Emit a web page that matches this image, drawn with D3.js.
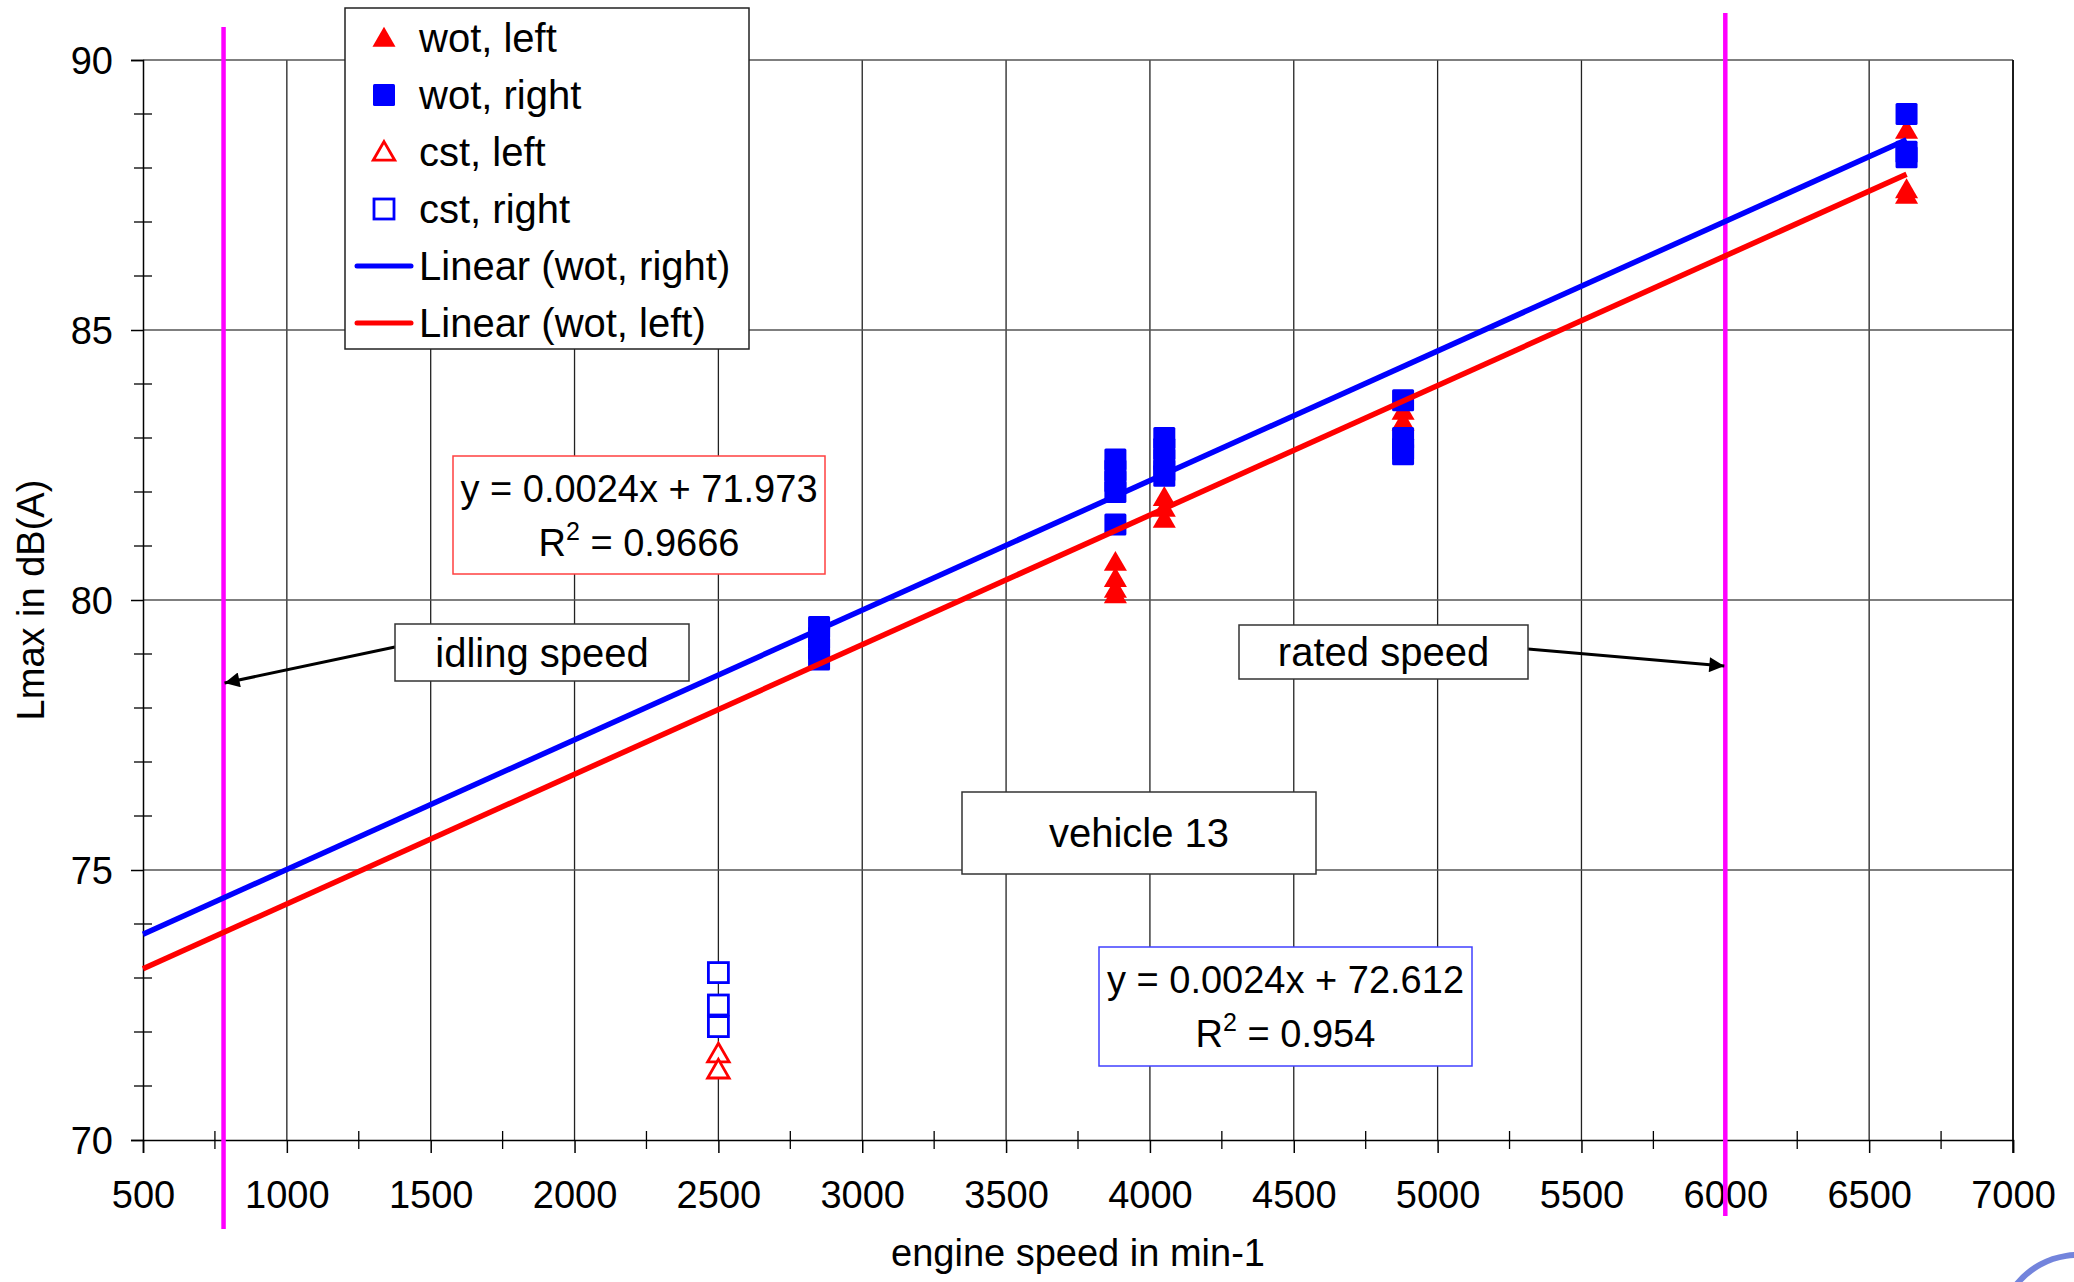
<!DOCTYPE html>
<html>
<head>
<meta charset="utf-8">
<script src="https://cdn.jsdelivr.net/npm/d3@7"></script>
<style>
  html, body { margin: 0; padding: 0; background: #fff; }
  svg { display: block; font-family: "Liberation Sans", Arial, sans-serif; }
</style>
</head>
<body>
<svg id="chart" width="2074" height="1282"></svg>
<script>
// Engine speed (min-1) and Lmax dB(A) per series
const wotLeftX  = [3880, 3880, 3880, 3880, 4050, 4050, 4050, 4880, 4880, 6630, 6630, 6630];
const wotLeftY  = [80.7, 80.4, 80.2, 80.1, 81.9, 81.7, 81.5, 83.5, 83.3, 88.7, 87.6, 87.5];
const wotRightX = [2850, 2850, 2850, 2850, 3880, 3880, 3880, 3880, 3880, 4050, 4050, 4050, 4050, 4050, 4880, 4880, 4880, 4880, 6630, 6630, 6630];
const wotRightY = [79.5, 79.3, 79.1, 78.9, 82.6, 82.4, 82.2, 82.0, 81.4, 83.0, 82.8, 82.6, 82.4, 82.3, 83.7, 83.0, 82.8, 82.7, 89.0, 88.3, 88.2];
const cstLeftX  = [2500, 2500];
const cstLeftY  = [71.6, 71.3];
const cstRightX = [2500, 2500, 2500];
const cstRightY = [73.1, 72.5, 72.1];

// Linear trend lines: slope, intercept, R²
const fitRight = { slope: 0.0024, intercept: 72.612, r2: "0.954" };
const fitLeft  = { slope: 0.0024, intercept: 71.973, r2: "0.9666" };
const fitRange = [500, 6630];

// Reference speeds
const idleSpeed = 780;
const ratedSpeed = 6000;

// Axis ticks
const xTicks = [500, 1000, 1500, 2000, 2500, 3000, 3500, 4000, 4500, 5000, 5500, 6000, 6500, 7000];
const yTicks = [70, 75, 80, 85, 90];
const xMinorTicks = d3.range(750, 7000, 500);
const yMinorTicks = d3.range(71, 90, 1).filter(v => v % 5 !== 0);

const legendItems = ["wot, left", "wot, right", "cst, left", "cst, right", "Linear (wot, right)", "Linear (wot, left)"];

const RED = "#ff0000", BLUE = "#0000ff", MAGENTA = "#ff00ff";

const svg = d3.select("#chart");
const x = d3.scaleLinear().domain([500, 7000]).range([143, 2013]);
const y = d3.scaleLinear().domain([70, 90]).range([1140, 60]);

// Grid
const grid = svg.append("g");
grid.selectAll(".vg").data(xTicks.slice(1)).enter().append("line")
  .attr("x1", d => x(d)).attr("x2", d => x(d))
  .attr("y1", y(70)).attr("y2", y(90))
  .attr("stroke", "#222").attr("stroke-width", 1.3);
grid.selectAll(".hg").data(yTicks.slice(1)).enter().append("line")
  .attr("x1", x(500)).attr("x2", x(7000))
  .attr("y1", d => y(d)).attr("y2", d => y(d))
  .attr("stroke", "#555").attr("stroke-width", 1.3);

// Axes
const fontSize = 38;
const labelSize = 40;
const xAxis = d3.axisBottom(x).tickValues(xTicks).tickSize(13).tickPadding(28).tickFormat(d3.format("d"));
const gx = svg.append("g").attr("transform", `translate(0,${y(70)})`).call(xAxis);
const yAxis = d3.axisLeft(y).tickValues(yTicks).tickSize(12).tickPadding(18).tickFormat(d3.format("d"));
const gy = svg.append("g").attr("transform", `translate(${x(500)},0)`).call(yAxis);
[gx, gy].forEach(g => {
  g.select(".domain").attr("stroke", "#000").attr("stroke-width", 1.5);
  g.selectAll(".tick line").attr("stroke", "#000").attr("stroke-width", 1.5);
  g.selectAll(".tick text").attr("font-size", fontSize).attr("fill", "#000")
    .attr("font-family", "Liberation Sans, Arial, sans-serif");
});
gx.selectAll(".tick text").attr("dy", "0.71em");
gy.selectAll(".tick text").attr("dy", "0.35em");

// Minor ticks crossing the axes
svg.append("g").selectAll("line").data(xMinorTicks).enter().append("line")
  .attr("x1", d => x(d)).attr("x2", d => x(d))
  .attr("y1", y(70) - 9).attr("y2", y(70) + 9)
  .attr("stroke", "#000").attr("stroke-width", 1.3);
svg.append("g").selectAll("line").data(yMinorTicks).enter().append("line")
  .attr("x1", x(500) - 9).attr("x2", x(500) + 9)
  .attr("y1", d => y(d)).attr("y2", d => y(d))
  .attr("stroke", "#000").attr("stroke-width", 1.3);
// Plot frame right edge
svg.append("line").attr("x1", x(7000)).attr("x2", x(7000)).attr("y1", y(90)).attr("y2", y(70) + 13)
  .attr("stroke", "#000").attr("stroke-width", 1.5);

// Axis titles
svg.append("text").attr("x", (x(500) + x(7000)) / 2).attr("y", 1266)
  .attr("text-anchor", "middle").attr("font-size", fontSize).text("engine speed in min-1");
svg.append("text").attr("transform", `translate(44,${(y(70) + y(90)) / 2}) rotate(-90)`)
  .attr("text-anchor", "middle").attr("font-size", fontSize).text("Lmax in dB(A)");

// Reference speed lines
svg.append("line").attr("x1", x(idleSpeed)).attr("x2", x(idleSpeed)).attr("y1", 27).attr("y2", 1229)
  .attr("stroke", MAGENTA).attr("stroke-width", 4.5);
svg.append("line").attr("x1", x(ratedSpeed)).attr("x2", x(ratedSpeed)).attr("y1", 13).attr("y2", 1216)
  .attr("stroke", MAGENTA).attr("stroke-width", 4.5);

// Markers
const tri = d3.symbol().type(d3.symbolTriangle).size(230);
const zip = (xs, ys) => xs.map((v, i) => [v, ys[i]]);
const sq = 22;

svg.append("g").selectAll("path").data(zip(cstLeftX, cstLeftY)).enter().append("path")
  .attr("d", d3.symbol().type(d3.symbolTriangle).size(200)())
  .attr("transform", d => `translate(${x(d[0])},${y(d[1]) + 2})`)
  .attr("fill", "#fff").attr("stroke", RED).attr("stroke-width", 2.8);
svg.append("g").selectAll("rect").data(zip(cstRightX, cstRightY)).enter().append("rect")
  .attr("x", d => x(d[0]) - 10).attr("y", d => y(d[1]) - 10)
  .attr("width", 20).attr("height", 20)
  .attr("fill", "#fff").attr("stroke", BLUE).attr("stroke-width", 2.8);

svg.append("g").selectAll("path").data(zip(wotLeftX, wotLeftY)).enter().append("path")
  .attr("d", tri())
  .attr("transform", d => `translate(${x(d[0])},${y(d[1]) + 2})`)
  .attr("fill", RED);
svg.append("g").selectAll("rect").data(zip(wotRightX, wotRightY)).enter().append("rect")
  .attr("x", d => x(d[0]) - sq / 2).attr("y", d => y(d[1]) - sq / 2)
  .attr("width", sq).attr("height", sq).attr("rx", 1.5)
  .attr("fill", BLUE);

// Trend lines
const fitLine = (fit) => d3.line().x(d => x(d)).y(d => y(fit.slope * d + fit.intercept))(fitRange);
svg.append("path").attr("d", fitLine(fitRight)).attr("stroke", BLUE).attr("stroke-width", 5.5).attr("fill", "none");
svg.append("path").attr("d", fitLine(fitLeft)).attr("stroke", RED).attr("stroke-width", 5.5).attr("fill", "none");

// Equation boxes
function equationBox(x0, y0, w, h, color, fit) {
  const g = svg.append("g");
  g.append("rect").attr("x", x0).attr("y", y0).attr("width", w).attr("height", h)
    .attr("fill", "#fff").attr("stroke", color).attr("stroke-width", 1.5);
  const cx = x0 + w / 2;
  g.append("text").attr("x", cx).attr("y", y0 + 46).attr("text-anchor", "middle").attr("font-size", fontSize)
    .text(`y = ${fit.slope}x + ${fit.intercept}`);
  const t = g.append("text").attr("x", cx).attr("y", y0 + 100).attr("text-anchor", "middle").attr("font-size", fontSize);
  t.append("tspan").text("R");
  t.append("tspan").attr("font-size", 25).attr("dy", -16).text("2");
  t.append("tspan").attr("dy", 16).text(` = ${fit.r2}`);
}
equationBox(453, 456, 372, 118, "#ff4040", fitLeft);
equationBox(1099, 947, 373, 119, "#4040ff", fitRight);

// Arrowhead
svg.append("defs").append("marker").attr("id", "arrow")
  .attr("viewBox", "0 0 10 10").attr("refX", 10).attr("refY", 5)
  .attr("markerWidth", 7).attr("markerHeight", 5).attr("markerUnits", "strokeWidth")
  .attr("orient", "auto")
  .append("path").attr("d", "M0,0L10,5L0,10Z").attr("fill", "#000");

// Annotation labels
function labelBox(x0, y0, w, h, text) {
  svg.append("rect").attr("x", x0).attr("y", y0).attr("width", w).attr("height", h)
    .attr("fill", "#fff").attr("stroke", "#333").attr("stroke-width", 1.5);
  svg.append("text").attr("x", x0 + w / 2).attr("y", y0 + h / 2 + 14).attr("text-anchor", "middle")
    .attr("font-size", labelSize).text(text);
}
svg.append("line").attr("x1", 395).attr("y1", 647).attr("x2", x(idleSpeed) + 1).attr("y2", 683)
  .attr("stroke", "#000").attr("stroke-width", 3).attr("marker-end", "url(#arrow)");
svg.append("line").attr("x1", 1528).attr("y1", 649).attr("x2", x(ratedSpeed) - 1).attr("y2", 666)
  .attr("stroke", "#000").attr("stroke-width", 3).attr("marker-end", "url(#arrow)");
labelBox(395, 624, 294, 57, "idling speed");
labelBox(1239, 625, 289, 54, "rated speed");
labelBox(962, 792, 354, 82, "vehicle 13");

// Legend
const lg = svg.append("g");
lg.append("rect").attr("x", 345).attr("y", 8).attr("width", 404).attr("height", 341)
  .attr("fill", "#fff").attr("stroke", "#222").attr("stroke-width", 1.5);
const rowY = i => 38 + i * 57;
legendItems.forEach((label, i) => {
  lg.append("text").attr("x", 419).attr("y", rowY(i) + 14).attr("font-size", labelSize).text(label);
});
lg.append("path").attr("d", tri()).attr("transform", `translate(384,${rowY(0) + 2})`).attr("fill", RED);
lg.append("rect").attr("x", 373).attr("y", rowY(1) - 11).attr("width", 22).attr("height", 22).attr("rx", 1.5).attr("fill", BLUE);
lg.append("path").attr("d", d3.symbol().type(d3.symbolTriangle).size(200)())
  .attr("transform", `translate(384,${rowY(2) + 2})`).attr("fill", "#fff").attr("stroke", RED).attr("stroke-width", 2.8);
lg.append("rect").attr("x", 374).attr("y", rowY(3) - 10).attr("width", 20).attr("height", 20)
  .attr("fill", "#fff").attr("stroke", BLUE).attr("stroke-width", 2.8);
lg.append("line").attr("x1", 357).attr("x2", 411).attr("y1", rowY(4)).attr("y2", rowY(4))
  .attr("stroke", BLUE).attr("stroke-width", 5).attr("stroke-linecap", "round");
lg.append("line").attr("x1", 357).attr("x2", 411).attr("y1", rowY(5)).attr("y2", rowY(5))
  .attr("stroke", RED).attr("stroke-width", 5).attr("stroke-linecap", "round");

// Corner emblem fragment
svg.append("path").attr("d", d3.arc()({ innerRadius: 76, outerRadius: 82, startAngle: -1.2, endAngle: 0.2 }))
  .attr("transform", "translate(2078,1334)")
  .attr("fill", "#5b6fd6").attr("opacity", 0.85);
</script>
</body>
</html>
